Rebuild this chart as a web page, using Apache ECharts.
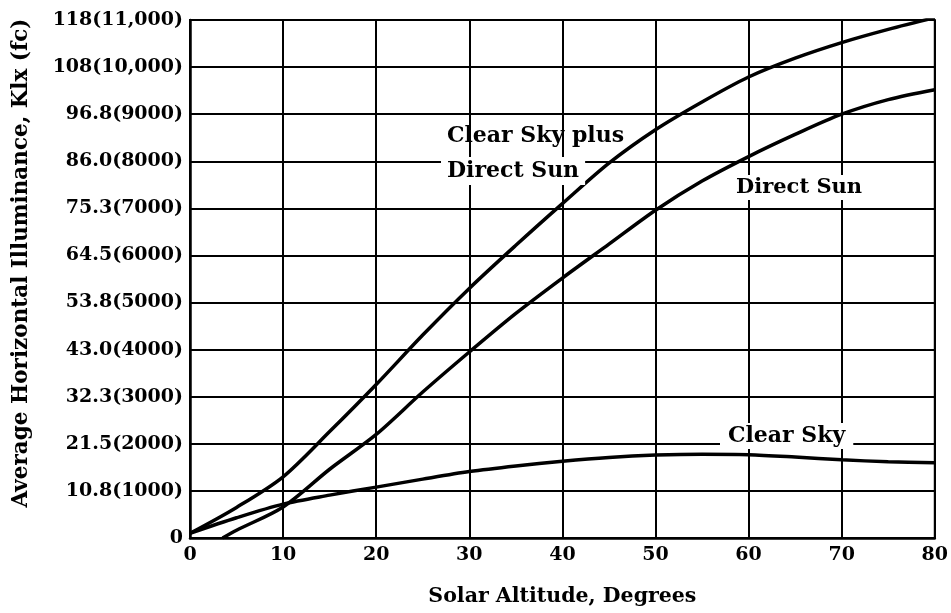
<!DOCTYPE html>
<html>
<head>
<meta charset="utf-8">
<script src="https://cdn.jsdelivr.net/npm/echarts@6/dist/echarts.min.js"></script>
<style>
html,body{margin:0;padding:0;background:#fff;}
#chart{width:951px;height:613px;}
</style>
</head>
<body>
<div id="chart"></div>
<script>
// Solar altitude (degrees) and illuminance (fc)
const clearPlusSun = [[0,100],[5,650],[10,1300],[15,2260],[20,3260],[25,4310],[30,5300],[35,6215],[40,7100],[45,7960],[50,8670],[55,9260],[60,9790],[65,10190],[70,10520],[75,10800],[80,11050]];
const directSun = [[3.5,0],[5,165],[10,660],[15,1460],[20,2200],[25,3100],[30,3950],[35,4770],[40,5520],[45,6240],[50,6960],[55,7580],[60,8100],[65,8570],[70,9000],[75,9310],[80,9520]];
const clearSky = [[0,100],[5,430],[10,720],[15,910],[20,1080],[25,1250],[30,1410],[35,1530],[40,1630],[45,1710],[50,1760],[55,1780],[60,1770],[65,1720],[70,1660],[75,1620],[80,1600]];
const yTickLabels = ['0','10.8(1000)','21.5(2000)','32.3(3000)','43.0(4000)','53.8(5000)','64.5(6000)','75.3(7000)','86.0(8000)','96.8(9000)','108(10,000)','118(11,000)'];
const xTitle = 'Solar Altitude, Degrees';
const yTitle = 'Average Horizontal Illuminance, Klx (fc)';

const FONT = '"DejaVu Serif", "Liberation Serif", serif';
const chart = echarts.init(document.getElementById('chart'), null, {renderer:'canvas'});
const lineStyle = {color:'#000', width:3.5};
const lineBase = {type:'line', smooth:0.3, showSymbol:false, lineStyle:lineStyle, z:5};
chart.setOption({
  animation:false,
  backgroundColor:'#fff',
  grid:{left:190, right:16, top:20, bottom:75, show:true, borderColor:'#000', borderWidth:2, backgroundColor:'transparent'},
  xAxis:{
    type:'value', min:0, max:80, interval:10,
    axisLine:{show:true, lineStyle:{color:'#000', width:2.5}},
    axisTick:{show:false},
    splitLine:{show:true, lineStyle:{color:'#000', width:2}},
    axisLabel:{color:'#000', fontFamily:FONT, fontWeight:'bold', fontSize:19, margin:8},
    name:xTitle, nameLocation:'middle', nameGap:48,
    nameTextStyle:{color:'#000', fontFamily:FONT, fontWeight:'bold', fontSize:20.5}
  },
  yAxis:{
    type:'value', min:0, max:11000, interval:1000,
    axisLine:{show:true, lineStyle:{color:'#000', width:2.5}},
    axisTick:{show:false},
    splitLine:{show:true, lineStyle:{color:'#000', width:2}},
    axisLabel:{color:'#000', fontFamily:FONT, fontWeight:'bold', fontSize:19, margin:7,
      formatter:function(v){return yTickLabels[Math.round(v/1000)];}}
  },
  series:[
    Object.assign({data:clearPlusSun}, lineBase),
    Object.assign({data:directSun}, lineBase),
    Object.assign({data:clearSky}, lineBase)
  ],
  graphic:[
    {type:'text', x:21, y:263, rotation:Math.PI/2, z:10,
      style:{text:yTitle, font:'bold 21.5px '+FONT, fill:'#000', align:'center', verticalAlign:'middle', textAlign:'center', textVerticalAlign:'middle'}},
    {type:'text', left:447, top:125, z:10, style:{text:'Clear Sky plus', font:'bold 22px '+FONT, fill:'#000'}},
    {type:'text', left:441, top:157, z:10, style:{text:'Direct Sun', font:'bold 22px '+FONT, fill:'#000', backgroundColor:'#fff', padding:[3,6]}},
    {type:'text', left:731, top:175, z:10, style:{text:'Direct Sun', font:'bold 21px '+FONT, fill:'#000', backgroundColor:'#fff', padding:[2,5]}},
    {type:'text', left:720, top:423, z:10, style:{text:'Clear Sky', font:'bold 22px '+FONT, fill:'#000', backgroundColor:'#fff', padding:[2,8]}}
  ]
});
</script>
</body>
</html>
